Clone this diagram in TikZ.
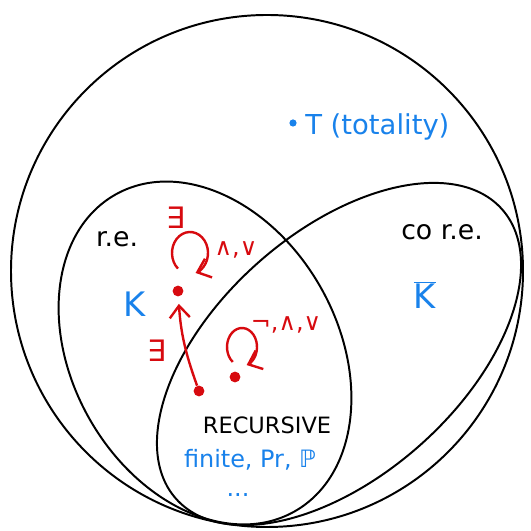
\documentclass[tikz,border=0pt]{standalone}
\usepackage{fontspec}
\setmainfont{DejaVu Sans}
\usepackage{tikz}
\usetikzlibrary{arrows.meta}
\definecolor{penred}{RGB}{215,10,15}
\definecolor{penblue}{RGB}{25,130,235}
\tikzset{
  setline/.style={line width=1.4pt,draw=black},
  reddot/.style={circle,fill=penred,inner sep=0pt,minimum size=2.7mm},
  redarrow/.style={-{Straight Barb[length=3mm,width=5mm]},line width=1.7pt,draw=penred},
  redlabel/.style={text=penred,inner sep=0pt,font=\fontsize{17}{17}\selectfont},
  bluelabel/.style={text=penblue,inner sep=0pt},
  setlabel/.style={text=black,inner sep=0pt,font=\fontsize{19}{19}\selectfont}
}

\begin{document}
\begin{tikzpicture}[x=0.025cm,y=0.025cm]
  \useasboundingbox (0,0) rectangle (531,531);
  % totality, r.e. and co r.e.
  \draw[setline] (267,260) circle [radius=256];
  \draw[setline,rotate around={-60.5:(205,178)}] (205,178) ellipse [x radius=182,y radius=133];
  \draw[setline,rotate around={41.6:(339,177)}] (339,177) ellipse [x radius=218,y radius=122];
  \node[setlabel] (re) at (117,292) {r.e.};
  \node[setlabel] (core) at (442,299) {co r.e.};
  \node[setlabel,font=\fontsize{16}{16}\selectfont] (rec) at (267,106) {RECURSIVE};
  % examples
  \node[bluelabel,font=\fontsize{24}{24}\selectfont] (k) at (135,227) {K};
  \node[bluelabel,font=\fontsize{24}{24}\selectfont] (kbar) at (425,236) {$\overline{\mbox{K}}$};
  \node[circle,fill=penblue,inner sep=0pt,minimum size=1.8mm] (tdot) at (293,408) {};
  \node[bluelabel,anchor=base west,font=\fontsize{19.5}{19.5}\selectfont] (tot) at (305,396) {T (totality)};
  \node[bluelabel,font=\fontsize{17}{17}\selectfont] (fin) at (250,71) {finite, Pr, ℙ};
  \node[bluelabel,font=\fontsize{17}{17}\selectfont] (more) at (238,36) {...};
  % closure
  \node[reddot] (kdot) at (178,240) {};
  \node[reddot] (rdot) at (199,140) {};
  \node[reddot] (recdot) at (235,154) {};
  \draw[redarrow,shorten >=1.8mm] (rdot) to[bend left=8] (kdot);
  \coordinate (kloop) at (190,278);
  \coordinate (recloop) at (242,184);
  \draw[redarrow] ([shift={(228:18 and 21)}]kloop) arc[start angle=228,end angle=-72,x radius=18,y radius=21];
  \draw[redarrow] ([shift={(232:15 and 19)}]recloop) arc[start angle=232,end angle=-72,x radius=15,y radius=19];
  \node[redlabel,font=\fontsize{21}{21}\selectfont] (ex1) at (176,313) {∃};
  \node[redlabel,font=\fontsize{21}{21}\selectfont] (ex2) at (157,180) {∃};
  \node[redlabel] (ops1) at (236,281) {∧,∨};
  \node[redlabel] (ops2) at (286,206) {¬,∧,∨};
\end{tikzpicture}
\end{document}
